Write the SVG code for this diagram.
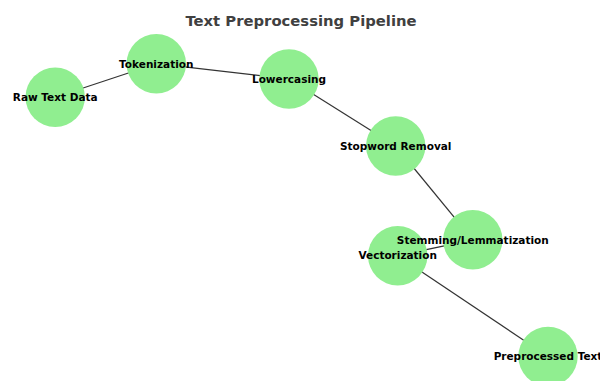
<svg xmlns="http://www.w3.org/2000/svg" width="600" height="381" viewBox="0 0 600 381">
<style>
.edge{stroke:#333;stroke-width:1.2;fill:none}
.node circle{fill:#90EE90}
.node text{font-family:"DejaVu Sans",sans-serif;font-weight:bold;font-size:10.5px;fill:#000;text-anchor:middle;dominant-baseline:central}
.title{font-family:"DejaVu Sans",sans-serif;font-weight:bold;font-size:14.8px;fill:#404040;text-anchor:middle}
</style>
<rect width="600" height="381" fill="#fff"/>
<text class="title" x="301" y="26">Text Preprocessing Pipeline</text>
<g id="connectors">
<line class="edge" x1="55.2" y1="97.2" x2="156.3" y2="63.7"/>
<line class="edge" x1="156.3" y1="63.7" x2="289" y2="79"/>
<line class="edge" x1="289" y1="79" x2="395.7" y2="146"/>
<line class="edge" x1="395.7" y1="146" x2="472.8" y2="239.8"/>
<line class="edge" x1="472.8" y1="239.8" x2="397.7" y2="255.7"/>
<line class="edge" x1="397.7" y1="255.7" x2="548" y2="356.5"/>
</g>
<g id="node-raw" class="node"><circle cx="55.2" cy="97.2" r="29.7"/></g>
<g id="node-tokenization" class="node"><circle cx="156.3" cy="63.7" r="29.7"/></g>
<g id="node-lowercasing" class="node"><circle cx="289" cy="79" r="29.7"/></g>
<g id="node-stopword" class="node"><circle cx="395.7" cy="146" r="29.7"/></g>
<g id="node-stemming" class="node"><circle cx="472.8" cy="239.8" r="29.7"/></g>
<g id="node-vectorization" class="node"><circle cx="397.7" cy="255.7" r="29.7"/></g>
<g id="node-preprocessed" class="node"><circle cx="548" cy="356.5" r="29.7"/></g>
<g id="labels" class="node">
<text x="55.2" y="97.2">Raw Text Data</text>
<text x="156.3" y="63.5">Tokenization</text>
<text x="289" y="78.5">Lowercasing</text>
<text x="395.7" y="145.5">Stopword Removal</text>
<text x="472.8" y="239.5">Stemming/Lemmatization</text>
<text x="397.7" y="255.3">Vectorization</text>
<text x="548" y="356">Preprocessed Text</text>
</g>
</svg>
